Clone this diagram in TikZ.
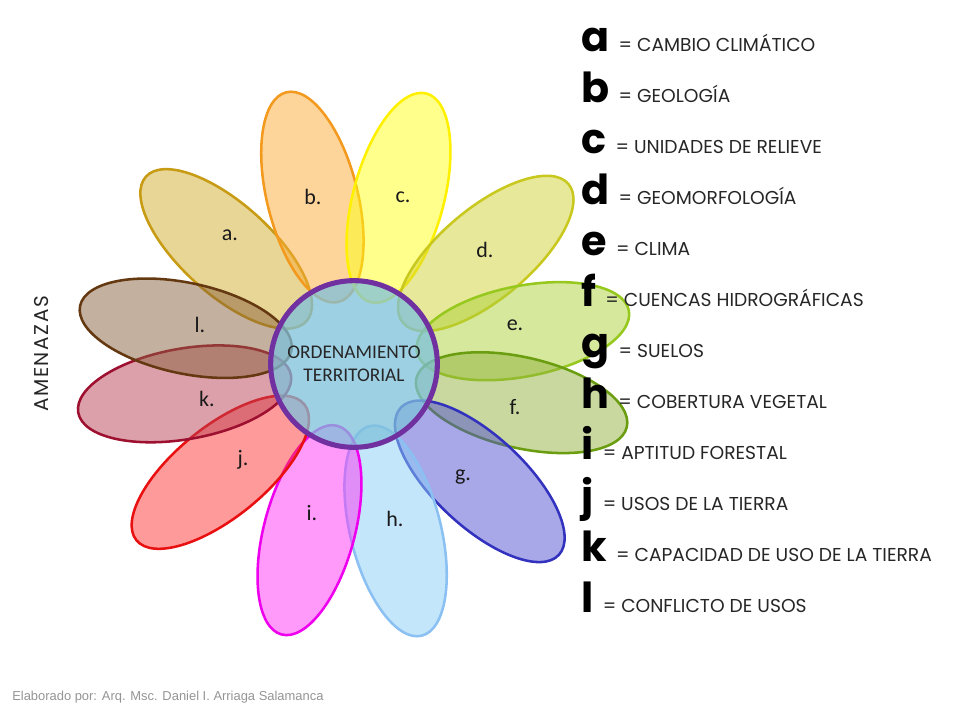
\documentclass[tikz,border=0pt]{standalone}
\usepackage{fontspec}
\setmainfont{Carlito}
\newfontfamily\keyfont{Poppins}
\newfontfamily\sidefont[LetterSpace=8]{Poppins}
\newfontfamily\creditfont{Liberation Sans}
\usetikzlibrary{shapes.geometric}
\usepackage{xcolor}

\definecolor{fillA}{RGB}{209,173,45}  \definecolor{lineA}{RGB}{200,155,20}
\definecolor{fillB}{RGB}{251,171,55}  \definecolor{lineB}{RGB}{243,154,30}
\definecolor{fillC}{RGB}{255,255,25}  \definecolor{lineC}{RGB}{255,240,0}
\definecolor{fillD}{RGB}{209,209,55}  \definecolor{lineD}{RGB}{200,200,30}
\definecolor{fillE}{RGB}{171,209,55}  \definecolor{lineE}{RGB}{150,200,30}
\definecolor{fillF}{RGB}{145,177,61}  \definecolor{lineF}{RGB}{106,158,16}
\definecolor{fillG}{RGB}{81,81,209}   \definecolor{lineG}{RGB}{50,50,190}
\definecolor{fillH}{RGB}{137,205,245} \definecolor{lineH}{RGB}{138,192,242}
\definecolor{fillI}{RGB}{255,53,245}  \definecolor{lineI}{RGB}{238,0,238}
\definecolor{fillJ}{RGB}{255,53,53}   \definecolor{lineJ}{RGB}{232,16,16}
\definecolor{fillK}{RGB}{185,65,85}   \definecolor{lineK}{RGB}{158,16,48}
\definecolor{fillL}{RGB}{137,97,61}   \definecolor{lineL}{RGB}{100,56,16}
\definecolor{hubfill}{RGB}{126,192,219}
\definecolor{hubline}{RGB}{112,48,160}

\newcommand{\keyrow}[2]{{\fontsize{31}{31}\selectfont\bfseries #1}\hspace{7pt}{\fontsize{14}{15}\selectfont\color{black!85} = #2}}

\begin{document}
\begin{tikzpicture}[x=0.75pt, y=0.75pt,
			petal/.style={ellipse, minimum width=162pt, minimum height=68pt, inner sep=0pt, line width=1.9pt, fill opacity=0.5},
			tag/.style={font=\fontsize{16.5}{17}\selectfont, text=black!90},
			hub/.style={circle, minimum size=125pt, line width=3.8pt, draw=hubline, fill=hubfill, fill opacity=0.75, text opacity=1, align=center, text=black!85, font=\fontsize{14.5}{17}\selectfont},
			key/.style={anchor=base west, inner sep=0pt, font=\keyfont}
			]
			\useasboundingbox (-354,-356) rectangle (606,364);
			
			\node[petal, draw=lineA, fill=fillA, rotate=138] (Pa) at (138:172) {};
			\node[petal, draw=lineB, fill=fillB, rotate=104] (Pb) at (104:172) {};
			\node[petal, draw=lineC, fill=fillC, rotate=75] (Pc) at (75:172) {};
			\node[petal, draw=lineD, fill=fillD, rotate=40] (Pd) at (40:172) {};
			\node[petal, draw=lineE, fill=fillE, rotate=11] (Pe) at (11:172) {};
			\node[petal, draw=lineF, fill=fillF, rotate=347] (Pf) at (347:172) {};
			\node[petal, draw=lineG, fill=fillG, rotate=317] (Pg) at (317:172) {};
			\node[petal, draw=lineH, fill=fillH, rotate=284] (Ph) at (284:172) {};
			\node[petal, draw=lineI, fill=fillI, rotate=255] (Pi) at (255:172) {};
			\node[petal, draw=lineJ, fill=fillJ, rotate=219] (Pj) at (219:172) {};
			\node[petal, draw=lineK, fill=fillK, rotate=190] (Pk) at (190:172) {};
			\node[petal, draw=lineL, fill=fillL, rotate=168] (Pl) at (168:172) {};
			
			\node[hub] (OT) at (0,0) {ORDENAMIENTO\\TERRITORIAL};
			
			\node[tag] (Ta) at (-124,129) {a.};
			\node[tag] (Tb) at (-41,167) {b.};
			\node[tag] (Tc) at (49,167) {c.};
			\node[tag] (Td) at (131,114) {d.};
			\node[tag] (Te) at (161,39) {e.};
			\node[tag] (Tf) at (161,-43) {f.};
			\node[tag] (Tg) at (109,-113) {g.};
			\node[tag] (Th) at (41,-155) {h.};
			\node[tag] (Ti) at (-42,-149) {i.};
			\node[tag] (Tj) at (-111,-96) {j.};
			\node[tag] (Tk) at (-147,-35) {k.};
			\node[tag] (Tl) at (-154,39) {l.};
			
			\node[key] (Ka) at (227,312) {\keyrow{a}{CAMBIO CLIMÁTICO}};
			\node[key] (Kb) at (227,261) {\keyrow{b}{GEOLOGÍA}};
			\node[key] (Kc) at (227,210) {\keyrow{c}{UNIDADES DE RELIEVE}};
			\node[key] (Kd) at (227,159) {\keyrow{d}{GEOMORFOLOGÍA}};
			\node[key] (Ke) at (227,108) {\keyrow{e}{CLIMA}};
			\node[key] (Kf) at (227,57) {\keyrow{f}{CUENCAS HIDROGRÁFICAS}};
			\node[key] (Kg) at (227,6) {\keyrow{g}{SUELOS}};
			\node[key] (Kh) at (227,-45) {\keyrow{h}{COBERTURA VEGETAL}};
			\node[key] (Ki) at (227,-96) {\keyrow{i}{APTITUD FORESTAL}};
			\node[key] (Kj) at (227,-147) {\keyrow{j}{USOS DE LA TIERRA}};
			\node[key] (Kk) at (227,-198) {\keyrow{k}{CAPACIDAD DE USO DE LA TIERRA}};
			\node[key] (Kl) at (227,-249) {\keyrow{l}{CONFLICTO DE USOS}};
			
			\node[rotate=90, font=\sidefont\fontsize{15}{15}\selectfont, text=black!85] (AM) at (-312,10) {AMENAZAS};
			\node[anchor=base west, inner sep=0pt, font=\creditfont\fontsize{9.7}{10}\selectfont, text=black!42] (Cr) at (-342,-336) {Elaborado por: Arq. Msc. Daniel I. Arriaga Salamanca};
		\end{tikzpicture}
\end{document}
